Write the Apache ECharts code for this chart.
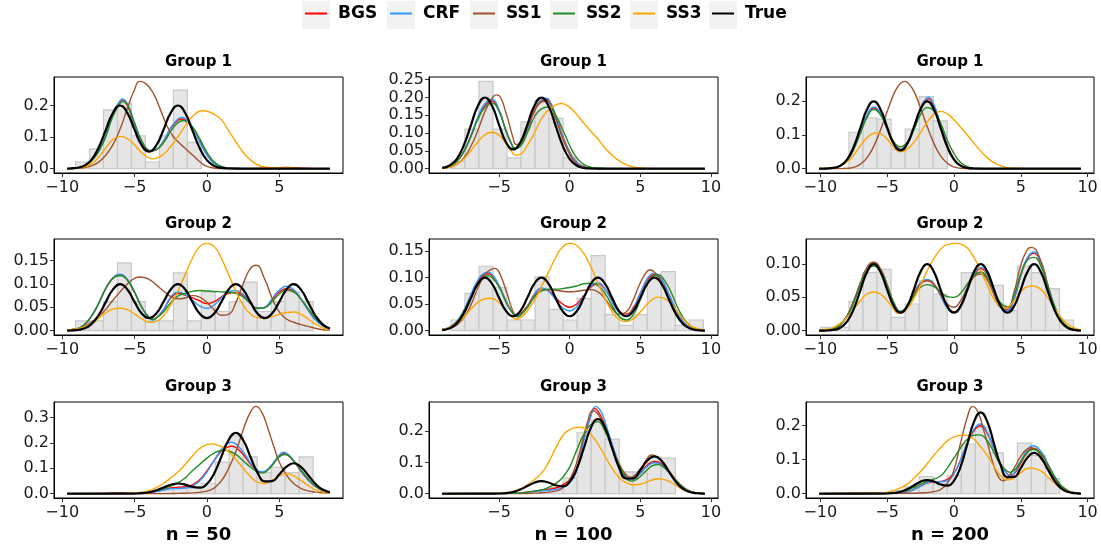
<!DOCTYPE html>
<html lang="en">
<head>
<meta charset="UTF-8">
<title>Group densities</title>
<script src="https://cdn.jsdelivr.net/npm/echarts@6/dist/echarts.min.js"></script>
<style>
  html, body { margin: 0; padding: 0; background: #fff; }
  #main { width: 1101px; height: 553px; }
</style>
</head>
<body>
<div id="main"></div>
<script>
// ---------------- data ----------------
var methods = ['BGS', 'CRF', 'SS1', 'SS2', 'SS3', 'True'];
var groups = ['Group 1', 'Group 2', 'Group 3'];
var sizes = ['n = 50', 'n = 100', 'n = 200'];

// x range of the data in each column (n = 50, 100, 200)
var xRanges = [[-9.66, 8.5], [-9.03, 9.57], [-10.09, 9.5]];
var xTicks = [[-10, -5, 0, 5], [-5, 0, 5, 10], [-10, -5, 0, 5, 10]];
// histogram bins per column
var binStart = [-9.08, -8.41, -9.95];
var binWidth = [0.966, 0.993, 1.05];

// y tick values per panel (row by row)
var yTicks = [
  [0, 0.1, 0.2], [0, 0.05, 0.1, 0.15, 0.2, 0.25], [0, 0.1, 0.2],
  [0, 0.05, 0.1, 0.15], [0, 0.05, 0.1, 0.15], [0, 0.05, 0.1],
  [0, 0.1, 0.2, 0.3], [0, 0.1, 0.2], [0, 0.1, 0.2]
];
var yDecimals = [1, 2, 1, 2, 2, 2, 1, 1, 1];

// histogram heights
var hist_g1n50 = [0.021, 0.062, 0.186, 0.207, 0.104, 0.021, 0.104, 0.248, 0.083];
var hist_g1n100 = [0.02, 0.111, 0.245, 0.111, 0.03, 0.131, 0.191, 0.141, 0.03];
var hist_g1n200 = [0, 0, 0.108, 0.151, 0.147, 0.057, 0.117, 0.214, 0.142];
var hist_g2n50 = [0.021, 0.021, 0.062, 0.145, 0.062, 0.021, 0.021, 0.124, 0.021, 0.083, 0.041, 0.062, 0.104, 0.041, 0.062, 0.083, 0.062];
var hist_g2n100 = [0.02, 0.07, 0.121, 0.081, 0.02, 0.02, 0.101, 0.04, 0.02, 0.06, 0.141, 0.03, 0.01, 0.03, 0.101, 0.111, 0.01, 0.02];
var hist_g2n200 = [0.005, 0.005, 0.044, 0.087, 0.092, 0.02, 0.04, 0.075, 0.055, 0, 0.087, 0.087, 0.068, 0.03, 0.097, 0.087, 0.063, 0.016];
var hist_g3n50 = [0, 0, 0, 0, 0, 0, 0.021, 0.021, 0.021, 0.041, 0.124, 0.228, 0.145, 0.083, 0.104, 0.083, 0.145];
var hist_g3n100 = [0, 0, 0, 0, 0, 0, 0.01, 0.02, 0.05, 0.197, 0.235, 0.175, 0.07, 0.07, 0.117, 0.114];
var hist_g3n200 = [0, 0, 0, 0, 0, 0.01, 0.02, 0.05, 0.03, 0.054, 0.146, 0.195, 0.12, 0.052, 0.149, 0.112, 0.044];

// true densities
var true_g1 = [[-10.09,0],[-9.66,0.0002],[-9.5,0.0004],[-9.03,0.002],[-9,0.0022],[-8.5,0.0088],[-8,0.027],[-7.5,0.065],[-7,0.121],[-6.5,0.176],[-6,0.1996],[-5.5,0.1765],[-5,0.123],[-4.5,0.0735],[-4,0.054],[-3.5,0.0735],[-3,0.123],[-2.5,0.1765],[-2,0.1996],[-1.5,0.176],[-1,0.121],[-0.5,0.065],[0,0.027],[0.5,0.0088],[1,0.0022],[1.5,0.0004],[2,0],[8.5,0],[9.5,0],[9.57,0]];
var true_g2 = [[-10.09,0],[-9.66,0.0001],[-9.5,0.0002],[-9.03,0.001],[-9,0.0011],[-8.5,0.0044],[-8,0.0135],[-7.5,0.0324],[-7,0.0605],[-6.5,0.088],[-6,0.0998],[-5.5,0.0882],[-5,0.0616],[-4.5,0.0368],[-4,0.027],[-3.5,0.0368],[-3,0.0616],[-2.5,0.0882],[-2,0.0998],[-1.5,0.0882],[-1,0.0616],[-0.5,0.0368],[0,0.027],[0.5,0.0368],[1,0.0616],[1.5,0.0882],[2,0.0998],[2.5,0.0882],[3,0.0616],[3.5,0.0368],[4,0.027],[4.5,0.0368],[5,0.0616],[5.5,0.0882],[6,0.0998],[6.5,0.088],[7,0.0605],[7.5,0.0324],[8,0.0135],[8.5,0.0044],[9,0.0011],[9.5,0.0002],[9.57,0.0001]];
var true_g3 = [[-10.09,0],[-9.66,0],[-9.03,0],[-6,0],[-5.5,0.0001],[-5,0.0004],[-4.5,0.0018],[-4,0.0054],[-3.5,0.013],[-3,0.0242],[-2.5,0.0352],[-2,0.04],[-1.5,0.0357],[-1,0.0268],[-0.5,0.0235],[0,0.0378],[0.5,0.0795],[1,0.1456],[1.5,0.2113],[2,0.2394],[2.5,0.2115],[3,0.1465],[3.5,0.083],[4,0.0486],[4.5,0.0494],[5,0.0752],[5.5,0.1061],[6,0.1198],[6.5,0.1056],[7,0.0726],[7.5,0.0389],[8,0.0162],[8.5,0.0053],[9,0.0013],[9.5,0.0003],[9.57,0.0002]];

// estimated densities, Group 1
var g1n50_BGS = [[-9.66,0],[-9,0.002],[-8.5,0.008],[-8,0.024],[-7.5,0.054],[-7,0.103],[-6.5,0.171],[-6,0.21],[-5.86,0.215],[-5.5,0.2],[-5,0.137],[-4.5,0.084],[-4,0.057],[-3.86,0.056],[-3.5,0.06],[-3,0.086],[-2.5,0.127],[-2,0.153],[-1.72,0.157],[-1.5,0.154],[-1,0.128],[-0.5,0.087],[0,0.046],[0.5,0.018],[1,0.006],[1.5,0.002],[2.5,0],[4.5,0.001],[5.5,0.004],[6.5,0.001],[7.5,0],[8.5,0]];
var g1n50_CRF = [[-9.66,0],[-9,0.002],[-8.5,0.008],[-8,0.024],[-7.5,0.055],[-7,0.105],[-6.5,0.175],[-6,0.215],[-5.86,0.22],[-5.5,0.205],[-5,0.14],[-4.5,0.085],[-4,0.057],[-3.86,0.056],[-3.5,0.06],[-3,0.087],[-2.5,0.13],[-2,0.157],[-1.72,0.162],[-1.5,0.158],[-1,0.13],[-0.5,0.085],[0,0.043],[0.5,0.016],[1,0.005],[1.5,0.001],[3,0],[8.5,0]];
var g1n50_SS1 = [[-9.66,0],[-9,0.001],[-8.5,0.003],[-8,0.009],[-7.5,0.02],[-7,0.042],[-6.5,0.075],[-6,0.125],[-5.5,0.19],[-5,0.25],[-4.65,0.276],[-4.2,0.268],[-3.7,0.238],[-3.2,0.185],[-2.75,0.134],[-2.3,0.1],[-1.85,0.079],[-1.4,0.06],[-0.9,0.039],[-0.45,0.02],[0,0.007],[0.5,0.002],[1,0],[4.5,0],[5.5,0.003],[6.5,0],[8.5,0]];
var g1n50_SS2 = [[-9.66,0],[-9,0.002],[-8.5,0.008],[-8,0.023],[-7.5,0.052],[-7,0.1],[-6.5,0.165],[-6,0.207],[-5.8,0.212],[-5.5,0.203],[-5,0.145],[-4.5,0.088],[-4,0.058],[-3.85,0.057],[-3.5,0.06],[-3,0.082],[-2.5,0.118],[-2,0.145],[-1.6,0.152],[-1.5,0.151],[-1,0.133],[-0.5,0.095],[0,0.052],[0.5,0.022],[1,0.007],[1.5,0.002],[2.5,0],[8.5,0]];
var g1n50_SS3 = [[-9.66,0],[-9,0.002],[-8.5,0.006],[-8,0.015],[-7.5,0.035],[-7,0.065],[-6.5,0.092],[-6,0.102],[-5.5,0.095],[-5,0.075],[-4.5,0.05],[-4,0.034],[-3.8,0.031],[-3.5,0.033],[-3,0.045],[-2.5,0.07],[-2,0.1],[-1.5,0.135],[-1,0.165],[-0.25,0.183],[0.5,0.172],[1,0.155],[1.5,0.12],[2,0.085],[2.5,0.052],[3,0.028],[3.5,0.012],[4,0.005],[5,0.002],[5.5,0.003],[6,0.002],[7,0],[8.5,0]];

var g1n100_BGS = [[-9.03,0.001],[-8.5,0.006],[-8,0.02],[-7.5,0.047],[-7,0.09],[-6.5,0.142],[-6,0.178],[-5.5,0.19],[-5,0.163],[-4.5,0.105],[-4,0.059],[-3.9,0.057],[-3.5,0.063],[-3,0.108],[-2.5,0.16],[-2,0.19],[-1.65,0.194],[-1.5,0.192],[-1,0.15],[-0.5,0.092],[0,0.047],[0.5,0.018],[1,0.006],[1.5,0.001],[2.5,0],[9.57,0]];
var g1n100_CRF = [[-9.03,0.001],[-8.5,0.006],[-8,0.02],[-7.5,0.048],[-7,0.092],[-6.5,0.145],[-6,0.182],[-5.5,0.194],[-5,0.165],[-4.5,0.105],[-4,0.058],[-3.9,0.056],[-3.5,0.062],[-3,0.11],[-2.5,0.165],[-2,0.194],[-1.7,0.198],[-1.5,0.195],[-1,0.15],[-0.5,0.09],[0,0.045],[0.5,0.017],[1,0.005],[1.5,0.001],[2.5,0],[9.57,0]];
var g1n100_SS1 = [[-9.03,0.001],[-8.5,0.004],[-8,0.012],[-7.5,0.03],[-7,0.062],[-6.5,0.108],[-6,0.16],[-5.5,0.197],[-5.2,0.207],[-5,0.205],[-4.5,0.155],[-4,0.085],[-3.8,0.068],[-3.5,0.07],[-3,0.115],[-2.5,0.165],[-2,0.187],[-1.6,0.19],[-1.5,0.189],[-1,0.14],[-0.5,0.085],[0,0.04],[0.5,0.013],[1,0.003],[1.5,0],[9.57,0]];
var g1n100_SS2 = [[-9.03,0.001],[-8.5,0.006],[-8,0.02],[-7.5,0.048],[-7,0.09],[-6.5,0.138],[-6,0.172],[-5.5,0.184],[-5,0.16],[-4.5,0.105],[-4,0.06],[-3.9,0.058],[-3.5,0.063],[-3,0.1],[-2.5,0.145],[-2,0.168],[-1.5,0.173],[-1,0.15],[-0.5,0.11],[0,0.065],[0.5,0.03],[1,0.012],[1.5,0.004],[2,0.001],[3,0],[9.57,0]];
var g1n100_SS3 = [[-9.03,0.001],[-8.5,0.004],[-8,0.012],[-7.5,0.027],[-7,0.05],[-6.5,0.075],[-6,0.095],[-5.5,0.102],[-5,0.094],[-4.5,0.07],[-4,0.042],[-3.8,0.038],[-3.5,0.04],[-3,0.065],[-2.5,0.1],[-2,0.14],[-1.5,0.165],[-1,0.178],[-0.6,0.183],[0,0.172],[0.5,0.152],[1,0.128],[1.5,0.105],[2,0.083],[2.5,0.058],[3,0.038],[3.5,0.022],[4,0.011],[4.5,0.005],[5,0.002],[6,0],[9.57,0]];

var g1n200_BGS = [[-10.09,0],[-9.5,0.0005],[-9,0.002],[-8.5,0.008],[-8,0.025],[-7.5,0.059],[-7,0.108],[-6.5,0.157],[-6,0.18],[-5.5,0.163],[-5,0.117],[-4.5,0.075],[-4,0.058],[-3.5,0.073],[-3,0.12],[-2.5,0.176],[-2,0.206],[-1.9,0.207],[-1.5,0.187],[-1,0.13],[-0.5,0.07],[0,0.029],[0.5,0.009],[1,0.002],[1.5,0],[9.5,0]];
var g1n200_CRF = [[-10.09,0],[-9.5,0.0005],[-9,0.002],[-8.5,0.008],[-8,0.025],[-7.5,0.06],[-7,0.11],[-6.5,0.16],[-6,0.183],[-5.5,0.165],[-5,0.118],[-4.5,0.075],[-4,0.058],[-3.5,0.074],[-3,0.122],[-2.5,0.18],[-2,0.211],[-1.9,0.212],[-1.5,0.19],[-1,0.13],[-0.5,0.068],[0,0.027],[0.5,0.008],[1,0.002],[1.5,0],[9.5,0]];
var g1n200_SS1 = [[-10.09,0],[-8.5,0],[-7.9,0.001],[-7.4,0.005],[-6.9,0.016],[-6.4,0.038],[-5.9,0.075],[-5.4,0.125],[-4.9,0.18],[-4.4,0.23],[-4,0.253],[-3.7,0.259],[-3.4,0.253],[-3,0.23],[-2.5,0.18],[-2,0.125],[-1.5,0.075],[-1,0.038],[-0.5,0.016],[0,0.005],[0.5,0.001],[1,0],[9.5,0]];
var g1n200_SS2 = [[-10.09,0],[-9.5,0.0005],[-9,0.002],[-8.5,0.008],[-8,0.024],[-7.5,0.057],[-7,0.105],[-6.5,0.152],[-6,0.175],[-5.5,0.16],[-5,0.12],[-4.5,0.08],[-4,0.065],[-3.5,0.078],[-3,0.115],[-2.5,0.16],[-2,0.181],[-1.5,0.172],[-1,0.135],[-0.5,0.085],[0,0.045],[0.5,0.018],[1,0.006],[1.5,0.001],[2.5,0],[9.5,0]];
var g1n200_SS3 = [[-10.09,0],[-9.5,0.001],[-9,0.003],[-8.5,0.008],[-8,0.02],[-7.5,0.04],[-7,0.068],[-6.5,0.092],[-6,0.105],[-5.75,0.106],[-5.5,0.104],[-5,0.088],[-4.5,0.063],[-4,0.05],[-3.5,0.058],[-3,0.078],[-2.5,0.107],[-2,0.138],[-1.5,0.161],[-1,0.17],[-0.5,0.163],[0,0.145],[0.5,0.123],[1,0.1],[1.5,0.075],[2,0.052],[2.5,0.032],[3,0.018],[3.5,0.008],[4,0.003],[4.5,0.001],[5.5,0],[9.5,0]];

// estimated densities, Group 2
var g2n50_BGS = [[-9.66,0.001],[-9,0.004],[-8.5,0.012],[-8,0.03],[-7.5,0.057],[-7,0.089],[-6.5,0.112],[-6,0.12],[-5.5,0.109],[-5,0.082],[-4.5,0.05],[-4,0.028],[-3.75,0.024],[-3.5,0.027],[-3,0.045],[-2.5,0.07],[-2,0.08],[-1.5,0.076],[-1,0.07],[-0.5,0.064],[0,0.058],[0.5,0.062],[1,0.072],[1.5,0.08],[2,0.082],[2.5,0.075],[3,0.06],[3.5,0.048],[4,0.05],[4.5,0.066],[5,0.083],[5.5,0.09],[6,0.085],[6.5,0.067],[7,0.044],[7.5,0.024],[8,0.011],[8.5,0.004]];
var g2n50_CRF = [[-9.66,0.001],[-9,0.004],[-8.5,0.012],[-8,0.03],[-7.5,0.058],[-7,0.09],[-6.5,0.113],[-6,0.121],[-5.5,0.11],[-5,0.083],[-4.5,0.05],[-4,0.027],[-3.75,0.0225],[-3.5,0.026],[-3,0.045],[-2.5,0.072],[-2,0.083],[-1.5,0.077],[-1,0.065],[-0.5,0.053],[0,0.048],[0.5,0.055],[1,0.07],[1.5,0.083],[2,0.086],[2.5,0.078],[3,0.06],[3.5,0.047],[4,0.05],[4.5,0.068],[5,0.087],[5.5,0.095],[6,0.088],[6.5,0.068],[7,0.044],[7.5,0.023],[8,0.01],[8.5,0.004]];
var g2n50_SS1 = [[-9.66,0.001],[-9,0.004],[-8.5,0.009],[-8,0.018],[-7.5,0.03],[-7,0.045],[-6.5,0.065],[-6,0.083],[-5.5,0.1],[-5,0.112],[-4.6,0.115],[-4,0.11],[-3.5,0.098],[-3,0.085],[-2.5,0.073],[-2,0.068],[-1.5,0.07],[-1,0.075],[-0.5,0.072],[0,0.06],[0.5,0.045],[1,0.033],[1.5,0.035],[2,0.06],[2.5,0.1],[3,0.133],[3.4,0.14],[4,0.11],[4.5,0.07],[5,0.04],[5.5,0.025],[6,0.018],[6.5,0.013],[7,0.009],[7.5,0.005],[8,0.002],[8.5,0.001]];
var g2n50_SS2 = [[-9.66,0.001],[-9,0.004],[-8.5,0.012],[-8,0.03],[-7.5,0.057],[-7,0.09],[-6.5,0.112],[-6,0.118],[-5.5,0.108],[-5,0.082],[-4.5,0.05],[-4,0.028],[-3.75,0.024],[-3.5,0.027],[-3,0.04],[-2.5,0.06],[-2,0.074],[-1.5,0.08],[-1,0.084],[-0.5,0.086],[0,0.085],[0.5,0.084],[1,0.083],[1.5,0.082],[2,0.08],[2.5,0.072],[3,0.058],[3.5,0.048],[4,0.049],[4.5,0.062],[5,0.078],[5.5,0.087],[6,0.083],[6.5,0.068],[7,0.047],[7.5,0.027],[8,0.012],[8.5,0.005]];
var g2n50_SS3 = [[-9.66,0.001],[-9,0.004],[-8.5,0.008],[-8,0.015],[-7.5,0.026],[-7,0.038],[-6.5,0.046],[-6,0.048],[-5.5,0.045],[-5,0.036],[-4.5,0.025],[-4,0.018],[-3.5,0.02],[-3,0.032],[-2.5,0.055],[-2,0.085],[-1.5,0.12],[-1,0.155],[-0.5,0.18],[0,0.187],[0.5,0.18],[1,0.155],[1.5,0.12],[2,0.085],[2.5,0.055],[3,0.036],[3.5,0.028],[4,0.027],[4.5,0.03],[5,0.035],[5.5,0.039],[6,0.04],[6.5,0.035],[7,0.025],[7.5,0.014],[8,0.006],[8.5,0.002]];

var g2n100_BGS = [[-9.03,0.002],[-8.5,0.006],[-8,0.017],[-7.5,0.037],[-7,0.066],[-6.5,0.093],[-6,0.106],[-5.8,0.107],[-5.5,0.104],[-5,0.084],[-4.5,0.055],[-4,0.033],[-3.7,0.029],[-3.5,0.031],[-3,0.046],[-2.5,0.068],[-2,0.079],[-1.5,0.075],[-1,0.062],[-0.5,0.05],[0,0.044],[0.5,0.05],[1,0.066],[1.5,0.082],[2,0.088],[2.5,0.078],[3,0.056],[3.5,0.036],[4,0.031],[4.5,0.043],[5,0.07],[5.5,0.095],[6,0.105],[6.5,0.095],[7,0.069],[7.5,0.04],[8,0.018],[8.5,0.006],[9,0.002],[9.57,0]];
var g2n100_CRF = [[-9.03,0.002],[-8.5,0.006],[-8,0.017],[-7.5,0.038],[-7,0.067],[-6.5,0.095],[-6,0.109],[-5.8,0.11],[-5.5,0.106],[-5,0.085],[-4.5,0.055],[-4,0.032],[-3.7,0.028],[-3.5,0.03],[-3,0.045],[-2.5,0.068],[-2,0.08],[-1.5,0.074],[-1,0.058],[-0.5,0.043],[0,0.037],[0.5,0.045],[1,0.065],[1.5,0.084],[2,0.09],[2.5,0.078],[3,0.054],[3.5,0.034],[4,0.028],[4.5,0.04],[5,0.07],[5.5,0.098],[6,0.108],[6.5,0.097],[7,0.07],[7.5,0.04],[8,0.018],[8.5,0.006],[9,0.002],[9.57,0]];
var g2n100_SS1 = [[-9.03,0.001],[-8.5,0.004],[-8,0.01],[-7.5,0.024],[-7,0.048],[-6.5,0.08],[-6,0.105],[-5.5,0.116],[-5.3,0.117],[-5,0.11],[-4.5,0.075],[-4,0.035],[-3.8,0.03],[-3.5,0.032],[-3,0.045],[-2.5,0.065],[-2,0.075],[-1.5,0.077],[-1,0.076],[-0.5,0.074],[0,0.073],[0.5,0.074],[1,0.076],[1.5,0.077],[2,0.073],[2.5,0.06],[3,0.042],[3.5,0.031],[4,0.035],[4.5,0.058],[5,0.09],[5.5,0.112],[5.7,0.114],[6,0.11],[6.5,0.09],[7,0.06],[7.5,0.032],[8,0.013],[8.5,0.004],[9,0.001],[9.57,0]];
var g2n100_SS2 = [[-9.03,0.002],[-8.5,0.006],[-8,0.016],[-7.5,0.036],[-7,0.062],[-6.5,0.088],[-6,0.102],[-5.8,0.103],[-5.5,0.1],[-5,0.082],[-4.5,0.053],[-4,0.031],[-3.7,0.026],[-3.5,0.028],[-3,0.043],[-2.5,0.063],[-2,0.075],[-1.5,0.078],[-1,0.078],[-0.5,0.079],[0,0.081],[0.5,0.084],[1,0.088],[1.5,0.089],[2,0.085],[2.5,0.07],[3,0.047],[3.5,0.027],[4,0.02],[4.5,0.03],[5,0.058],[5.5,0.088],[6,0.104],[6.3,0.105],[6.5,0.102],[7,0.082],[7.5,0.052],[8,0.026],[8.5,0.01],[9,0.003],[9.57,0.001]];
var g2n100_SS3 = [[-9.03,0.002],[-8.5,0.006],[-8,0.013],[-7.5,0.025],[-7,0.04],[-6.5,0.053],[-6,0.06],[-5.6,0.061],[-5,0.053],[-4.5,0.037],[-4,0.024],[-3.8,0.022],[-3.5,0.024],[-3,0.037],[-2.5,0.057],[-2,0.082],[-1.5,0.11],[-1,0.137],[-0.5,0.157],[0.1,0.164],[0.5,0.16],[1,0.145],[1.5,0.12],[2,0.09],[2.5,0.06],[3,0.036],[3.5,0.021],[4,0.017],[4.5,0.022],[5,0.035],[5.5,0.05],[6,0.061],[6.3,0.063],[7,0.055],[7.5,0.04],[8,0.023],[8.5,0.01],[9,0.004],[9.57,0.001]];

var g2n200_BGS = [[-10.09,0],[-9.5,0.001],[-9,0.003],[-8.5,0.009],[-8,0.022],[-7.5,0.044],[-7,0.07],[-6.5,0.093],[-6,0.1],[-5.5,0.092],[-5,0.069],[-4.5,0.042],[-4,0.028],[-3.5,0.036],[-3,0.055],[-2.5,0.07],[-2,0.075],[-1.5,0.069],[-1,0.053],[-0.5,0.035],[0,0.028],[0.5,0.037],[1,0.06],[1.5,0.083],[2,0.093],[2.5,0.085],[3,0.06],[3.5,0.037],[4,0.031],[4.5,0.048],[5,0.082],[5.5,0.108],[6,0.116],[6.5,0.101],[7,0.07],[7.5,0.038],[8,0.016],[8.5,0.005],[9,0.001],[9.5,0]];
var g2n200_CRF = [[-10.09,0],[-9.5,0.001],[-9,0.003],[-8.5,0.009],[-8,0.022],[-7.5,0.044],[-7,0.07],[-6.5,0.093],[-6,0.1],[-5.5,0.092],[-5,0.069],[-4.5,0.042],[-4,0.028],[-3.5,0.036],[-3,0.056],[-2.5,0.072],[-2,0.077],[-1.5,0.07],[-1,0.053],[-0.5,0.034],[0,0.027],[0.5,0.036],[1,0.06],[1.5,0.085],[2,0.095],[2.5,0.086],[3,0.06],[3.5,0.036],[4,0.03],[4.5,0.048],[5,0.083],[5.5,0.11],[6,0.118],[6.5,0.102],[7,0.07],[7.5,0.038],[8,0.016],[8.5,0.005],[9,0.001],[9.5,0]];
var g2n200_SS1 = [[-10.09,0],[-9.5,0.001],[-9,0.003],[-8.5,0.009],[-8,0.022],[-7.5,0.045],[-7,0.072],[-6.5,0.095],[-6,0.103],[-5.5,0.093],[-5,0.068],[-4.5,0.04],[-4,0.028],[-3.5,0.035],[-3,0.055],[-2.5,0.07],[-2,0.075],[-1.5,0.07],[-1,0.055],[-0.5,0.04],[0,0.035],[0.5,0.045],[1,0.064],[1.5,0.081],[2,0.085],[2.5,0.076],[3,0.054],[3.5,0.035],[4,0.034],[4.5,0.058],[5,0.098],[5.5,0.122],[5.8,0.125],[6.5,0.105],[7,0.07],[7.5,0.036],[8,0.014],[8.5,0.004],[9,0.001],[9.5,0]];
var g2n200_SS2 = [[-10.09,0],[-9.5,0.001],[-9,0.003],[-8.5,0.009],[-8,0.021],[-7.5,0.042],[-7,0.068],[-6.5,0.09],[-6,0.097],[-5.5,0.089],[-5,0.067],[-4.5,0.041],[-4,0.029],[-3.5,0.035],[-3,0.052],[-2.5,0.065],[-2,0.069],[-1.5,0.066],[-1,0.058],[-0.5,0.051],[0,0.05],[0.5,0.056],[1,0.07],[1.5,0.083],[2,0.088],[2.5,0.08],[3,0.06],[3.5,0.041],[4,0.036],[4.5,0.053],[5,0.085],[5.5,0.106],[6,0.11],[6.5,0.097],[7,0.068],[7.5,0.038],[8,0.017],[8.5,0.006],[9,0.002],[9.5,0]];
var g2n200_SS3 = [[-10.09,0.001],[-9.5,0.002],[-9,0.005],[-8.5,0.011],[-8,0.02],[-7.5,0.032],[-7,0.045],[-6.5,0.055],[-6,0.058],[-5.5,0.055],[-5,0.045],[-4.5,0.032],[-4.2,0.026],[-4,0.026],[-3.5,0.033],[-3,0.048],[-2.5,0.068],[-2,0.09],[-1.5,0.108],[-1,0.122],[-0.5,0.129],[0.2,0.131],[0.5,0.13],[1,0.124],[1.5,0.11],[2,0.09],[2.5,0.068],[3,0.047],[3.5,0.036],[3.75,0.034],[4,0.035],[4.5,0.045],[5,0.058],[5.5,0.066],[5.9,0.067],[6.5,0.062],[7,0.05],[7.5,0.034],[8,0.02],[8.5,0.01],[9,0.004],[9.5,0.001]];

// estimated densities, Group 3
var g3n50_BGS = [[-9.66,0],[-7,0.001],[-6,0.004],[-5,0.002],[-4,0.004],[-3.5,0.008],[-3,0.015],[-2.5,0.022],[-2,0.025],[-1.5,0.027],[-1,0.035],[-0.5,0.055],[0,0.09],[0.5,0.13],[1,0.168],[1.5,0.185],[1.7,0.187],[2,0.182],[2.5,0.155],[3,0.118],[3.5,0.09],[3.8,0.085],[4,0.087],[4.5,0.112],[5,0.148],[5.3,0.157],[5.5,0.155],[6,0.127],[6.5,0.088],[7,0.054],[7.5,0.028],[8,0.012],[8.5,0.005]];
var g3n50_CRF = [[-9.66,0],[-5,0.001],[-4,0.004],[-3.5,0.008],[-3,0.014],[-2.5,0.019],[-2,0.02],[-1.5,0.022],[-1,0.03],[-0.5,0.05],[0,0.085],[0.5,0.13],[1,0.175],[1.5,0.2],[1.7,0.203],[2,0.196],[2.5,0.165],[3,0.122],[3.5,0.092],[3.8,0.086],[4,0.088],[4.5,0.115],[5,0.152],[5.3,0.163],[5.5,0.16],[6,0.13],[6.5,0.09],[7,0.055],[7.5,0.028],[8,0.012],[8.5,0.005]];
var g3n50_SS1 = [[-9.66,0],[-3,0],[-2,0.001],[-1,0.003],[0,0.01],[0.5,0.022],[1,0.05],[1.5,0.1],[2,0.165],[2.5,0.25],[3,0.32],[3.4,0.344],[3.8,0.32],[4.2,0.26],[4.6,0.19],[5,0.125],[5.5,0.073],[6,0.04],[6.5,0.021],[7,0.011],[7.5,0.006],[8,0.003],[8.5,0.001]];
var g3n50_SS2 = [[-9.66,0],[-5,0.002],[-4,0.006],[-3.5,0.012],[-3,0.02],[-2.5,0.03],[-2,0.042],[-1.5,0.062],[-1,0.09],[-0.5,0.115],[0,0.14],[0.5,0.16],[1,0.17],[1.3,0.171],[1.5,0.168],[2,0.155],[2.5,0.13],[3,0.105],[3.5,0.086],[3.8,0.082],[4,0.084],[4.5,0.11],[5,0.145],[5.4,0.154],[6,0.13],[6.5,0.093],[7,0.058],[7.5,0.03],[8,0.013],[8.5,0.005]];
var g3n50_SS3 = [[-9.66,0],[-6,0.001],[-5,0.003],[-4.5,0.006],[-4,0.012],[-3.5,0.024],[-3,0.04],[-2.5,0.062],[-2,0.085],[-1.5,0.115],[-1,0.148],[-0.5,0.178],[0.3,0.196],[1,0.185],[1.5,0.165],[2,0.135],[2.5,0.1],[3,0.068],[3.5,0.045],[4,0.04],[4.5,0.052],[5,0.07],[5.5,0.078],[6,0.07],[6.5,0.052],[7,0.032],[7.5,0.016],[8,0.007],[8.5,0.003]];

var g3n100_BGS = [[-9.03,0],[-4,0.001],[-3,0.005],[-2,0.011],[-1,0.018],[-0.5,0.028],[0,0.045],[0.5,0.08],[1,0.175],[1.5,0.25],[1.73,0.273],[2,0.265],[2.5,0.22],[3,0.155],[3.5,0.095],[4,0.053],[4.2,0.045],[4.5,0.047],[5,0.066],[5.5,0.092],[6,0.103],[6.5,0.096],[7,0.073],[7.5,0.045],[8,0.022],[8.5,0.008],[9,0.002],[9.57,0]];
var g3n100_CRF = [[-9.03,0],[-4,0.001],[-3,0.004],[-2.5,0.007],[-2,0.009],[-1.5,0.011],[-1,0.013],[-0.5,0.02],[0,0.035],[0.5,0.075],[1,0.17],[1.5,0.25],[1.85,0.28],[2.2,0.265],[2.5,0.23],[3,0.16],[3.5,0.095],[4,0.052],[4.2,0.045],[4.5,0.048],[5,0.065],[5.5,0.088],[6,0.099],[6.5,0.092],[7,0.07],[7.5,0.042],[8,0.02],[8.5,0.007],[9,0.002],[9.57,0]];
var g3n100_SS1 = [[-9.03,0],[-3,0],[-2,0.003],[-1,0.008],[-0.5,0.018],[0,0.045],[0.5,0.1],[1,0.185],[1.3,0.235],[1.62,0.266],[2,0.255],[2.5,0.21],[3,0.15],[3.5,0.095],[4,0.06],[4.3,0.053],[4.5,0.055],[5,0.08],[5.5,0.113],[5.75,0.124],[6,0.122],[6.5,0.105],[7,0.075],[7.5,0.043],[8,0.02],[8.5,0.007],[9,0.002],[9.57,0]];
var g3n100_SS2 = [[-9.03,0],[-4,0.001],[-3,0.005],[-2,0.012],[-1.5,0.02],[-1,0.032],[-0.5,0.052],[0,0.085],[0.5,0.14],[1,0.19],[1.5,0.222],[1.97,0.231],[2.5,0.2],[3,0.145],[3.5,0.09],[4,0.05],[4.3,0.04],[4.5,0.041],[5,0.055],[5.5,0.077],[6,0.092],[6.3,0.093],[6.5,0.09],[7,0.07],[7.5,0.044],[8,0.022],[8.5,0.008],[9,0.002],[9.57,0]];
var g3n100_SS3 = [[-9.03,0],[-5,0.001],[-4.5,0.003],[-4,0.007],[-3.5,0.015],[-3,0.028],[-2.5,0.045],[-2,0.065],[-1.5,0.1],[-1,0.145],[-0.5,0.185],[0,0.205],[0.7,0.213],[1,0.21],[1.5,0.19],[2,0.16],[2.5,0.12],[3,0.082],[3.5,0.052],[4,0.035],[4.5,0.028],[5,0.03],[5.5,0.038],[6,0.046],[6.3,0.048],[7,0.04],[7.5,0.027],[8,0.013],[8.5,0.005],[9,0.002],[9.57,0]];

var g3n200_BGS = [[-10.09,0],[-4,0.002],[-3.5,0.005],[-3,0.012],[-2.5,0.022],[-2,0.031],[-1.5,0.035],[-1,0.036],[-0.5,0.042],[0,0.06],[0.5,0.1],[1,0.148],[1.5,0.185],[1.95,0.2],[2.5,0.177],[3,0.13],[3.5,0.087],[4,0.058],[4.2,0.054],[4.5,0.058],[5,0.09],[5.5,0.122],[5.9,0.133],[6.5,0.119],[7,0.087],[7.5,0.05],[8,0.023],[8.5,0.009],[9,0.003],[9.5,0]];
var g3n200_CRF = [[-10.09,0],[-4,0.002],[-3.5,0.005],[-3,0.012],[-2.5,0.022],[-2,0.032],[-1.5,0.036],[-1,0.035],[-0.5,0.038],[0,0.058],[0.5,0.1],[1,0.15],[1.5,0.19],[1.95,0.205],[2.5,0.18],[3,0.13],[3.5,0.085],[4,0.057],[4.2,0.054],[4.5,0.06],[5,0.095],[5.5,0.13],[5.9,0.141],[6.5,0.125],[7,0.09],[7.5,0.052],[8,0.024],[8.5,0.009],[9,0.003],[9.5,0]];
var g3n200_SS1 = [[-10.09,0],[-3,0.001],[-2,0.003],[-1.5,0.006],[-1,0.012],[-0.5,0.03],[0,0.07],[0.5,0.15],[1,0.225],[1.4,0.257],[1.8,0.24],[2.2,0.19],[2.5,0.15],[3,0.08],[3.4,0.045],[3.7,0.038],[4,0.045],[4.5,0.075],[5,0.11],[5.5,0.132],[5.8,0.135],[6.2,0.128],[6.5,0.112],[7,0.078],[7.5,0.044],[8,0.02],[8.5,0.007],[9,0.002],[9.5,0]];
var g3n200_SS2 = [[-10.09,0],[-4.5,0.002],[-4,0.005],[-3.5,0.01],[-3,0.018],[-2.5,0.028],[-2,0.036],[-1.5,0.043],[-1,0.052],[-0.5,0.075],[0,0.105],[0.5,0.135],[1,0.16],[1.5,0.172],[1.9,0.173],[2.5,0.155],[3,0.12],[3.5,0.085],[4,0.066],[4.2,0.063],[4.5,0.068],[5,0.095],[5.5,0.122],[5.9,0.13],[6.5,0.118],[7,0.088],[7.5,0.052],[8,0.025],[8.5,0.01],[9,0.003],[9.5,0]];
var g3n200_SS3 = [[-10.09,0],[-6,0.001],[-5,0.004],[-4.5,0.009],[-4,0.017],[-3.5,0.028],[-3,0.045],[-2.5,0.065],[-2,0.088],[-1.5,0.113],[-1,0.135],[-0.5,0.155],[0,0.167],[0.75,0.173],[1,0.171],[1.5,0.16],[2,0.138],[2.5,0.112],[3,0.08],[3.5,0.052],[4,0.04],[4.5,0.046],[5,0.062],[5.5,0.074],[5.8,0.075],[6.5,0.067],[7,0.05],[7.5,0.032],[8,0.017],[8.5,0.007],[9,0.002],[9.5,0]];

// ---------------- layout / style ----------------
var colors = ['#FF0000', '#3399FF', '#A0522D', '#228B22', '#FFA500', '#000000'];
var widths = [1.4, 1.4, 1.4, 1.4, 1.4, 2.2];
var colLeft = [54, 429, 806];
var colWidth = [289, 289, 288];
var rowTop = [77, 239, 402];
var rowHeight = 96;
var keyLeft = [302, 387, 470, 550, 630, 709];
var FONT = 'DejaVu Sans';

var curveTable = [
  [[g1n50_BGS, g1n50_CRF, g1n50_SS1, g1n50_SS2, g1n50_SS3],
   [g1n100_BGS, g1n100_CRF, g1n100_SS1, g1n100_SS2, g1n100_SS3],
   [g1n200_BGS, g1n200_CRF, g1n200_SS1, g1n200_SS2, g1n200_SS3]],
  [[g2n50_BGS, g2n50_CRF, g2n50_SS1, g2n50_SS2, g2n50_SS3],
   [g2n100_BGS, g2n100_CRF, g2n100_SS1, g2n100_SS2, g2n100_SS3],
   [g2n200_BGS, g2n200_CRF, g2n200_SS1, g2n200_SS2, g2n200_SS3]],
  [[g3n50_BGS, g3n50_CRF, g3n50_SS1, g3n50_SS2, g3n50_SS3],
   [g3n100_BGS, g3n100_CRF, g3n100_SS1, g3n100_SS2, g3n100_SS3],
   [g3n200_BGS, g3n200_CRF, g3n200_SS1, g3n200_SS2, g3n200_SS3]]
];
var trueCurves = [true_g1, true_g2, true_g3];
var histTable = [
  [hist_g1n50, hist_g1n100, hist_g1n200],
  [hist_g2n50, hist_g2n100, hist_g2n200],
  [hist_g3n50, hist_g3n100, hist_g3n200]
];

function fmtX(v) {
  v = Number(v);
  return v < 0 ? '\u2212' + Math.abs(v) : String(v);
}

function fmtY(d) {
  return function (v) { return Number(v).toFixed(d); };
}

function renderBin(params, api) {
  var a = api.coord([api.value(0), api.value(2)]);
  var b = api.coord([api.value(1), 0]);
  return {
    type: 'rect',
    shape: { x: a[0], y: a[1], width: b[0] - a[0], height: b[1] - a[1] },
    style: { fill: '#e5e5e5', stroke: '#c8c8c8', lineWidth: 1.2 }
  };
}

var grids = [], xAxes = [], yAxes = [], series = [], titles = [];

function buildPanel(r, c) {
  var p = r * 3 + c;
  var lo = xRanges[c][0], hi = xRanges[c][1];
  var pad = 0.05 * (hi - lo);
  var tc = trueCurves[r].filter(function (pt) { return pt[0] >= lo && pt[0] <= hi; });
  var curves = curveTable[r][c].concat([tc]);
  var bins = [];
  histTable[r][c].forEach(function (h, k) {
    if (h > 0) bins.push([binStart[c] + k * binWidth[c], binStart[c] + (k + 1) * binWidth[c], h]);
  });

  var yMax = 0;
  curves.forEach(function (d) { d.forEach(function (pt) { yMax = Math.max(yMax, pt[1]); }); });
  bins.forEach(function (b) { yMax = Math.max(yMax, b[2]); });

  grids.push({
    left: colLeft[c], top: rowTop[r], width: colWidth[c], height: rowHeight,
    show: true, borderColor: '#000', borderWidth: 1, backgroundColor: '#fff',
    containLabel: false, outerBoundsMode: 'none'
  });

  xAxes.push({
    type: 'value', gridIndex: p, min: lo - pad, max: hi + pad,
    axisLine: { show: true, onZero: false, lineStyle: { color: '#000', width: 1 } },
    axisTick: { show: true, length: 4, customValues: xTicks[c], lineStyle: { color: '#333', width: 1 } },
    axisLabel: {
      customValues: xTicks[c], formatter: fmtX, margin: 7,
      color: '#1a1a1a', fontSize: 16, fontFamily: FONT
    },
    splitLine: { show: false }
  });

  yAxes.push({
    type: 'value', gridIndex: p, min: -0.05 * yMax, max: 1.05 * yMax,
    axisLine: { show: true, onZero: false, lineStyle: { color: '#000', width: 1 } },
    axisTick: { show: true, length: 4, customValues: yTicks[p], lineStyle: { color: '#333', width: 1 } },
    axisLabel: {
      customValues: yTicks[p], margin: 5, color: '#1a1a1a', fontSize: 16, fontFamily: FONT,
      formatter: fmtY(yDecimals[p])
    },
    splitLine: { show: false }
  });

  series.push({
    type: 'custom', name: 'hist', xAxisIndex: p, yAxisIndex: p,
    renderItem: renderBin, data: bins, encode: { x: [0, 1], y: 2 },
    clip: true, silent: true, z: 1
  });

  curves.forEach(function (d, m) {
    series.push({
      name: methods[m], type: 'line', xAxisIndex: p, yAxisIndex: p,
      data: d, showSymbol: false, symbol: 'none', smooth: 0.5,
      lineStyle: { color: colors[m], width: widths[m] },
      itemStyle: { color: colors[m] },
      silent: true, z: 2 + m
    });
  });

  titles.push({
    text: groups[r], left: colLeft[c] + colWidth[c] / 2, top: rowTop[r] - 25,
    textAlign: 'center', padding: 0,
    textStyle: { fontSize: 15, fontWeight: 'bold', fontFamily: FONT, color: '#000', lineHeight: 20 }
  });
}

for (var r = 0; r < 3; r++) {
  for (var c = 0; c < 3; c++) buildPanel(r, c);
}

sizes.forEach(function (s, c) {
  titles.push({
    text: s, left: colLeft[c] + colWidth[c] / 2, top: 524,
    textAlign: 'center', padding: 0,
    textStyle: { fontSize: 18, fontWeight: 'bold', fontFamily: FONT, color: '#000', lineHeight: 22 }
  });
});

var legends = methods.map(function (m, i) {
  return {
    data: [m], left: keyLeft[i] + 3, top: 5, padding: 0,
    icon: 'rect', itemWidth: 22, itemHeight: 2, selectedMode: false,
    textStyle: { fontSize: 17, fontWeight: 'bold', fontFamily: FONT, color: '#000', padding: [0, 0, 0, 6] }
  };
});

var keyBoxes = keyLeft.map(function (x) {
  return { type: 'rect', shape: { x: x, y: 1, width: 28, height: 28 }, style: { fill: '#f2f2f2' }, silent: true, z: 0 };
});

var chart = echarts.init(document.getElementById('main'), null, { renderer: 'canvas' });
chart.setOption({
  animation: false,
  backgroundColor: '#fff',
  title: titles,
  legend: legends,
  graphic: keyBoxes,
  grid: grids,
  xAxis: xAxes,
  yAxis: yAxes,
  series: series
});
</script>
</body>
</html>
